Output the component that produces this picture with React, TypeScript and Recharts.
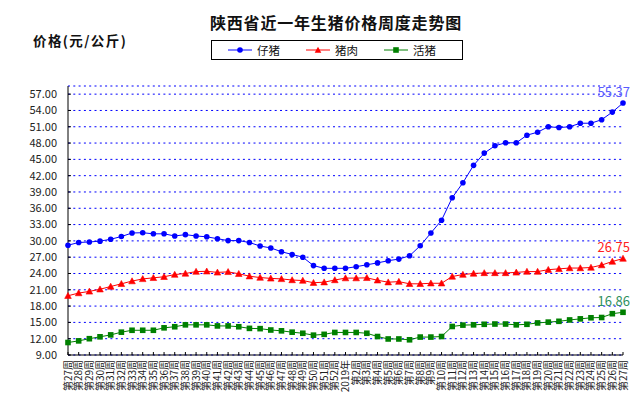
import React from 'react';
import { LineChart, Line, XAxis, YAxis, CartesianGrid, Legend, LabelList } from 'recharts';

const weeks = [
  '第27周', '第28周', '第29周', '第30周', '第31周', '第32周', '第33周', '第34周', '第35周',
  '第36周', '第37周', '第38周', '第39周', '第40周', '第41周', '第42周', '第43周', '第44周',
  '第45周', '第46周', '第47周', '第48周', '第49周', '第50周', '第51周', '第52周', '2019年',
  '第2周', '第3周', '第4周', '第5周', '第6周', '第7周', '第8周', '第9周', '第10周',
  '第11周', '第12周', '第13周', '第14周', '第15周', '第16周', '第17周', '第18周', '第19周',
  '第20周', '第21周', '第22周', '第23周', '第24周', '第25周', '第26周', '第27周',
];

// 仔猪
const piglet = [
  29.2, 29.7, 29.8, 29.95, 30.3, 30.8, 31.45, 31.5, 31.3, 31.3, 30.9, 31.15, 30.9, 30.75, 30.4, 30.05, 30.05,
  29.7, 29.05, 28.7, 28.0, 27.5, 27.0, 25.45, 24.95, 24.95, 24.95, 25.25, 25.6, 25.95, 26.35, 26.65, 27.25, 29.1,
  31.45, 33.8, 37.95, 40.7, 43.9, 46.15, 47.5, 48.05, 48.05, 49.45, 50.0, 51.0, 50.85, 51.0, 51.65, 51.65, 52.3, 53.7, 55.37,
];

// 猪肉
const pork = [
  19.9, 20.4, 20.7, 21.1, 21.6, 22.1, 22.6, 23.0, 23.2, 23.4, 23.8, 24.0, 24.35, 24.4, 24.2, 24.3, 23.95,
  23.5, 23.25, 23.1, 23.0, 22.8, 22.7, 22.3, 22.4, 22.8, 23.15, 23.15, 23.2, 22.75, 22.4, 22.5, 22.1, 22.1,
  22.2, 22.2, 23.45, 23.8, 24.0, 24.1, 24.1, 24.1, 24.2, 24.35, 24.35, 24.7, 24.85, 25.0, 25.0, 25.1, 25.55, 26.2, 26.75,
];

// 活猪
const hog = [
  11.3, 11.6, 12.0, 12.35, 12.7, 13.2, 13.55, 13.55, 13.55, 14.0, 14.2, 14.55, 14.55, 14.55, 14.35, 14.35, 14.2,
  13.9, 13.85, 13.6, 13.45, 13.2, 13.0, 12.65, 12.8, 13.15, 13.15, 13.15, 13.0, 12.4, 11.95, 11.95, 11.8, 12.3,
  12.3, 12.4, 14.25, 14.5, 14.55, 14.65, 14.7, 14.7, 14.55, 14.65, 14.9, 15.05, 15.2, 15.45, 15.65, 15.85, 15.9, 16.6, 16.86,
];

const yTicks = [9, 12, 15, 18, 21, 24, 27, 30, 33, 36, 39, 42, 45, 48, 51, 54, 57];

const data = weeks.map((w, i) => ({ week: w, piglet: piglet[i], pork: pork[i], hog: hog[i] }));

const FONT = '"Noto Sans CJK SC", "DejaVu Sans", sans-serif';
const BLUE = '#0000ff';
const RED = '#ff0000';
const GREEN = '#008000';

const WeekTick = (props: any) => {
  const { x, y, payload } = props;
  return (
    <text
      transform={`translate(${x},${y}) rotate(-90)`}
      textAnchor="end"
      dy="0.35em"
      fontSize={10}
      fontFamily={FONT}
      fill="#222"
    >
      {payload.value}
    </text>
  );
};

const triangleDot = (p: any) => {
  const { cx, cy, index } = p;
  if (cx == null || cy == null) return <g key={index} />;
  return (
    <path
      key={index}
      d={`M${cx},${cy - 3.3} L${cx - 3.3},${cy + 2.7} L${cx + 3.3},${cy + 2.7} Z`}
      fill={RED}
      stroke={RED}
      strokeWidth={0.6}
    />
  );
};

const squareDot = (p: any) => {
  const { cx, cy, index } = p;
  if (cx == null || cy == null) return <g key={index} />;
  return <rect key={index} x={cx - 2.8} y={cy - 2.8} width={5.6} height={5.6} fill={GREEN} />;
};

// only the last point carries a value label
const lastLabel = (color: string) => (p: any) => {
  const { x, y, value, index } = p;
  if (index !== weeks.length - 1) return null;
  return (
    <text x={x + 7} y={y - 11} dy="0.35em" textAnchor="end" fontSize={13} fontFamily={FONT} fill={color}>
      {Number(value).toFixed(2)}
    </text>
  );
};

const LegendBox = (props: any) => {
  const items = [
    { name: '仔猪', color: BLUE, shape: 'circle' },
    { name: '猪肉', color: RED, shape: 'triangle' },
    { name: '活猪', color: GREEN, shape: 'square' },
  ];
  return (
    <div
      style={{
        boxSizing: 'border-box',
        width: 252,
        height: 20,
        border: '1px solid #000',
        display: 'flex',
        alignItems: 'center',
        paddingLeft: 16,
        background: '#fff',
      }}
    >
      {items.map((it) => (
        <div key={it.name} style={{ width: 84, display: 'flex', alignItems: 'center' }}>
          <svg width={24} height={10}>
            <line x1={0} y1={5} x2={24} y2={5} stroke={it.color} strokeWidth={1} />
            {it.shape === 'circle' && <circle cx={12} cy={5} r={2.8} fill={it.color} />}
            {it.shape === 'triangle' && <path d="M12,1.7 L8.7,7.7 L15.3,7.7 Z" fill={it.color} />}
            {it.shape === 'square' && <rect x={9.2} y={2.2} width={5.6} height={5.6} fill={it.color} />}
          </svg>
          <span style={{ marginLeft: 5, fontSize: 11.5, fontFamily: FONT, color: '#111' }}>{it.name}</span>
        </div>
      ))}
    </div>
  );
};

export default function App() {
  return (
    <div style={{ position: 'absolute', left: 0, top: 0, width: 638, height: 404, background: '#fff' }}>
      <div
        style={{
          position: 'absolute',
          left: 0,
          width: 672,
          top: 10,
          textAlign: 'center',
          fontFamily: FONT,
          fontWeight: 'bold',
          fontSize: 16,
          letterSpacing: 0.8,
          color: '#111',
        }}
      >
        陕西省近一年生猪价格周度走势图
      </div>
      <div
        style={{
          position: 'absolute',
          left: 33,
          top: 30,
          fontFamily: FONT,
          fontWeight: 'bold',
          fontSize: 13.5,
          letterSpacing: 1.4,
          color: '#111',
        }}
      >
        价格(元/公斤)
      </div>
      <LineChart width={638} height={404} data={data} margin={{ top: 66, right: 15, bottom: 0, left: 0 }}>
        <CartesianGrid horizontal vertical={false} stroke={BLUE} strokeDasharray="2 3.3" />
        <XAxis
          dataKey="week"
          interval={0}
          height={49}
          tick={<WeekTick />}
          tickSize={-3}
          tickMargin={8}
          axisLine={{ stroke: '#000' }}
          tickLine={{ stroke: '#000' }}
        />
        <YAxis
          domain={[9, 58.5]}
          ticks={yTicks}
          interval={0}
          width={68}
          tickSize={-3}
          tickMargin={14}
          tickFormatter={(v: number) => v.toFixed(2)}
          tick={{ fontSize: 11, fontFamily: FONT, fill: '#222' }}
          axisLine={{ stroke: '#000' }}
          tickLine={{ stroke: '#000' }}
          allowDataOverflow
        />
        <Legend
          verticalAlign="top"
          content={<LegendBox />}
          wrapperStyle={{ position: 'absolute', top: 40, left: 211, width: 252, height: 20 }}
        />
        <Line
          type="linear"
          dataKey="piglet"
          name="仔猪"
          stroke={BLUE}
          strokeWidth={1}
          dot={{ r: 2.8, fill: BLUE, stroke: BLUE, strokeWidth: 0 }}
          isAnimationActive={false}
        >
          <LabelList dataKey="piglet" content={lastLabel('#5a5aff')} />
        </Line>
        <Line
          type="linear"
          dataKey="pork"
          name="猪肉"
          stroke={RED}
          strokeWidth={1}
          dot={triangleDot}
          isAnimationActive={false}
        >
          <LabelList dataKey="pork" content={lastLabel('#ff2020')} />
        </Line>
        <Line
          type="linear"
          dataKey="hog"
          name="活猪"
          stroke={GREEN}
          strokeWidth={1}
          dot={squareDot}
          isAnimationActive={false}
        >
          <LabelList dataKey="hog" content={lastLabel('#2f9060')} />
        </Line>
      </LineChart>
    </div>
  );
}
